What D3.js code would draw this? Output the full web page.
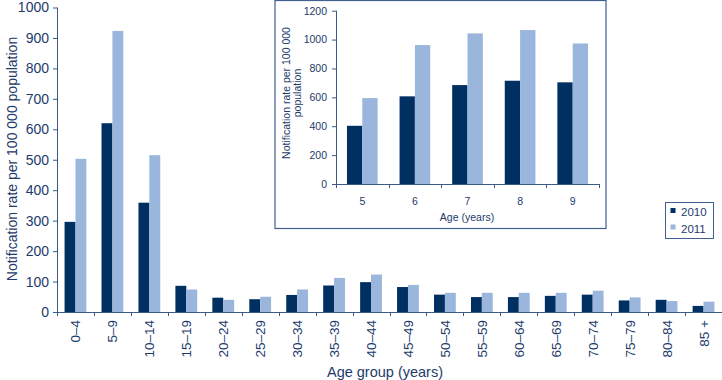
<!DOCTYPE html>
<html><head><meta charset="utf-8">
<script src="https://cdn.jsdelivr.net/npm/d3@7"></script>
<style>body{margin:0;background:#fff}svg{display:block;font-family:"Liberation Sans",Arial,sans-serif}</style>
</head><body>
<svg id="c" width="722" height="380"></svg>
<script>
const ageGroups = ["0–4","5–9","10–14","15–19","20–24","25–29","30–34","35–39","40–44","45–49","50–54","55–59","60–64","65–69","70–74","75–79","80–84","85 +"];
const rates2010 = [296,620,359,86,47,42,56,87,98,82,57,49,49,53,57,38,40,20];
const rates2011 = [503,923,515,74,40,50,74,112,123,89,63,63,63,63,70,48,36,34];
const insetAges = ["5","6","7","8","9"];
const inset2010 = [403,607,685,715,704];
const inset2011 = [595,962,1043,1066,973];
const seriesNames = ["2010","2011"];
const mainTicks = [0,100,200,300,400,500,600,700,800,900,1000];
const insetTicks = [0,200,400,600,800,1000,1200];

const DARK = "#002f61", LIGHT = "#9bb6dd", TEXT = "#1c3b6b", AXIS = "#3a5a8a";
const svg = d3.select("#c");

function drawChart(g, cats, s1, s2, o) {
  const x0 = d3.scaleBand().domain(cats).range([o.left, o.right]).paddingInner(o.pad).paddingOuter(o.pad/2);
  const x1 = d3.scaleBand().domain(seriesNames).range([0, x0.bandwidth()]);
  const y = d3.scaleLinear().domain([0, o.max]).range([o.bottom, o.top]);
  const data = cats.map((c,i)=>({c, v:[s1[i], s2[i]]}));
  const grp = g.selectAll("g.grp").data(data).join("g").attr("transform", d=>`translate(${x0(d.c)},0)`);
  grp.selectAll("rect").data(d=>d.v.map((v,j)=>({k:seriesNames[j], v}))).join("rect")
    .attr("x", d=>x1(d.k)).attr("width", x1.bandwidth())
    .attr("y", d=>y(d.v)).attr("height", d=>y(0)-y(d.v))
    .attr("fill", d=>d.k==="2010"?DARK:LIGHT);
  const ya = g.append("g").attr("transform",`translate(${o.left},0)`)
    .call(d3.axisLeft(y).tickValues(o.ticks).tickSize(o.tick).tickPadding(o.tpad).tickFormat(d3.format("d")));
  ya.select(".domain").attr("stroke", AXIS).attr("d", `M0.5,${o.bottom}V${o.top}`);
  ya.selectAll(".tick line").attr("stroke", AXIS);
  ya.selectAll("text").attr("fill", TEXT).style("font-size", o.fs+"px").attr("font-family","Liberation Sans, Arial");
  const step = x0.step();
  g.append("line").attr("x1",o.left).attr("x2",o.right).attr("y1",o.bottom+0.5).attr("y2",o.bottom+0.5).attr("stroke",AXIS);
  d3.range(cats.length+1).forEach(i=>{
    const xx = Math.round(o.left + i*step)+0.5;
    g.append("line").attr("x1",xx).attr("x2",xx).attr("y1",o.bottom).attr("y2",o.bottom+o.tick).attr("stroke",AXIS);
  });
  return {x0, y};
}

// MAIN CHART
const main = svg.append("g");
const m = drawChart(main, ageGroups, rates2010, rates2011,
  {left:57, right:722, top:7.5, bottom:312, max:1000, pad:0.41, ticks:mainTicks, tick:4, tpad:4, fs:14});
main.selectAll("text.xl").data(ageGroups).join("text").attr("class","xl")
  .attr("transform", d=>`translate(${m.x0(d)+m.x0.bandwidth()/2+5},320) rotate(-90)`)
  .attr("text-anchor","end").attr("fill",TEXT).style("font-size","13.5px").text(d=>d);
main.append("text").attr("x",385).attr("y",377).attr("text-anchor","middle").attr("fill",TEXT)
  .style("font-size","14.5px").text("Age group (years)");
main.append("text").attr("transform","translate(17,159) rotate(-90)").attr("text-anchor","middle").attr("fill",TEXT)
  .style("font-size","14px").text("Notification rate per 100 000 population");

// INSET
const ins = svg.append("g");
ins.append("rect").attr("x",275).attr("y",0.5).attr("width",331).attr("height",228).attr("fill","#fff").attr("stroke","#3f6090").attr("stroke-width",1.2);
const n = drawChart(ins, insetAges, inset2010, inset2011,
  {left:336, right:599, top:10.7, bottom:184, max:1200, pad:0.417, ticks:insetTicks, tick:4, tpad:5, fs:10.5});
ins.selectAll("text.xl").data(insetAges).join("text").attr("class","xl")
  .attr("x", d=>n.x0(d)+n.x0.bandwidth()/2).attr("y",205).attr("text-anchor","middle")
  .attr("fill",TEXT).style("font-size","10.5px").text(d=>d);
ins.append("text").attr("x",467).attr("y",221).attr("text-anchor","middle").attr("fill",TEXT)
  .style("font-size","10.5px").text("Age (years)");
const yt = ins.append("text").attr("transform","translate(290,93) rotate(-90)").attr("text-anchor","middle").attr("fill",TEXT).style("font-size","10.5px");
yt.append("tspan").attr("x",0).attr("dy",0).text("Notification rate per 100 000");
yt.append("tspan").attr("x",0).attr("dy",11).text("population");

// LEGEND
const lg = svg.append("g");
lg.append("rect").attr("x",665.5).attr("y",202.5).attr("width",48).attr("height",36).attr("fill","#fff").attr("stroke","#3f6090");
seriesNames.forEach((s,i)=>{
  lg.append("rect").attr("x",670.5).attr("y",208+i*16.5).attr("width",5).attr("height",5).attr("fill",i?LIGHT:DARK);
  lg.append("text").attr("x",681).attr("y",216+i*16.5).attr("fill",TEXT).style("font-size","11.5px").text(s);
});
</script>
</body></html>
